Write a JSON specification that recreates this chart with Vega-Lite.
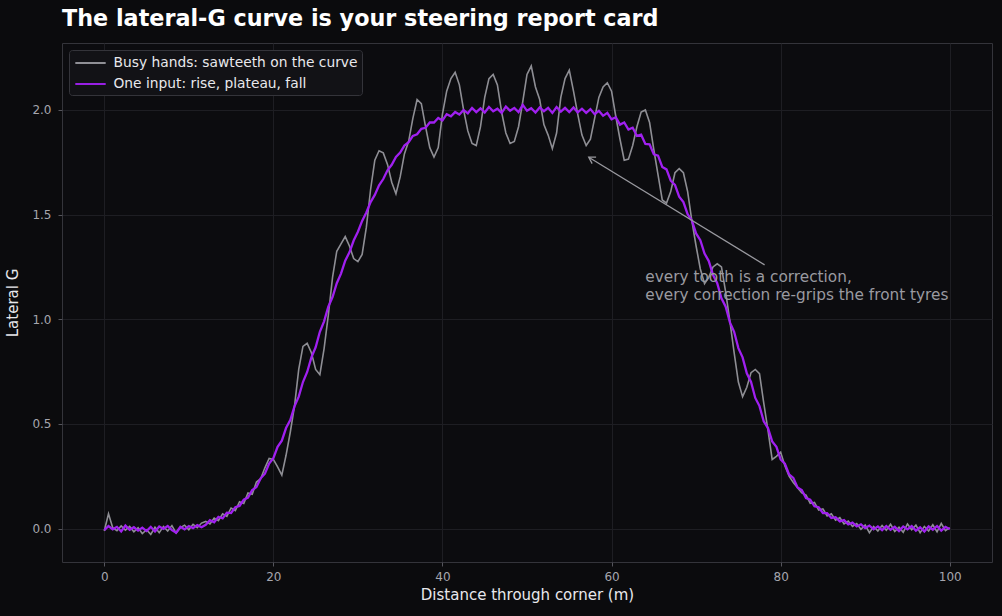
{
  "$schema": "https://vega.github.io/schema/vega-lite/v6.json",
  "width": 930,
  "height": 519,
  "autosize": {"type": "none"},
  "padding": {"left": 62, "top": 43, "right": 10, "bottom": 54},
  "background": "#0b0b0d",
  "title": {
    "text": "The lateral-G curve is your steering report card",
    "anchor": "start",
    "frame": "group",
    "fontSize": 22.3,
    "fontWeight": "bold",
    "color": "#ffffff",
    "font": "DejaVu Sans",
    "offset": 13
  },
  "datasets": {
    "trace": [
      {"x": 0, "p": -0.008, "g": -0.012}, {"x": 0.5, "p": 0.012, "g": 0.07}, {"x": 1, "p": -0.004, "g": 0.004},
      {"x": 1.5, "p": 0.008, "g": -0.01}, {"x": 2, "p": -0.014, "g": 0.012}, {"x": 2.5, "p": 0.014, "g": -0.008},
      {"x": 3, "p": -0.006, "g": 0.01}, {"x": 3.5, "p": 0.006, "g": -0.016}, {"x": 4, "p": -0.01, "g": 0.004},
      {"x": 4.5, "p": 0.004, "g": -0.024}, {"x": 5, "p": -0.012, "g": -0.006}, {"x": 5.5, "p": 0.008, "g": -0.028},
      {"x": 6, "p": -0.014, "g": 0.006}, {"x": 6.5, "p": 0.01, "g": -0.02}, {"x": 7, "p": -0.002, "g": 0.01},
      {"x": 7.5, "p": 0.012, "g": -0.012}, {"x": 8, "p": -0.008, "g": 0.014}, {"x": 8.5, "p": -0.02, "g": -0.022},
      {"x": 9, "p": 0.008, "g": 0.004}, {"x": 9.5, "p": -0.004, "g": 0.016}, {"x": 10, "p": 0.012, "g": -0.006},
      {"x": 10.5, "p": 0.002, "g": 0.02}, {"x": 11, "p": 0.016, "g": 0.004}, {"x": 11.5, "p": 0.006, "g": 0.026},
      {"x": 12, "p": 0.018, "g": 0.034}, {"x": 12.5, "p": 0.04, "g": 0.022}, {"x": 13, "p": 0.03, "g": 0.05},
      {"x": 13.5, "p": 0.056, "g": 0.038}, {"x": 14, "p": 0.048, "g": 0.07}, {"x": 14.5, "p": 0.076, "g": 0.058},
      {"x": 15, "p": 0.074, "g": 0.098}, {"x": 15.5, "p": 0.102, "g": 0.086}, {"x": 16, "p": 0.108, "g": 0.128},
      {"x": 16.5, "p": 0.138, "g": 0.12}, {"x": 17, "p": 0.148, "g": 0.17}, {"x": 17.5, "p": 0.184, "g": 0.164},
      {"x": 18, "p": 0.198, "g": 0.222}, {"x": 18.5, "p": 0.24, "g": 0.238}, {"x": 19, "p": 0.262, "g": 0.29},
      {"x": 19.5, "p": 0.31, "g": 0.335}, {"x": 20, "p": 0.336, "g": 0.33}, {"x": 20.5, "p": 0.39, "g": 0.295},
      {"x": 21, "p": 0.42, "g": 0.255}, {"x": 21.5, "p": 0.48, "g": 0.35}, {"x": 22, "p": 0.518, "g": 0.46},
      {"x": 22.5, "p": 0.584, "g": 0.585}, {"x": 23, "p": 0.63, "g": 0.76}, {"x": 23.5, "p": 0.7, "g": 0.87},
      {"x": 24, "p": 0.748, "g": 0.885}, {"x": 24.5, "p": 0.818, "g": 0.84}, {"x": 25, "p": 0.866, "g": 0.76},
      {"x": 25.5, "p": 0.94, "g": 0.735}, {"x": 26, "p": 0.99, "g": 0.86}, {"x": 26.5, "p": 1.06, "g": 1.02},
      {"x": 27, "p": 1.106, "g": 1.2}, {"x": 27.5, "p": 1.172, "g": 1.325}, {"x": 28, "p": 1.218, "g": 1.36},
      {"x": 28.5, "p": 1.28, "g": 1.395}, {"x": 29, "p": 1.32, "g": 1.35}, {"x": 29.5, "p": 1.376, "g": 1.29},
      {"x": 30, "p": 1.418, "g": 1.275}, {"x": 30.5, "p": 1.47, "g": 1.31}, {"x": 31, "p": 1.51, "g": 1.44},
      {"x": 31.5, "p": 1.56, "g": 1.62}, {"x": 32, "p": 1.594, "g": 1.76}, {"x": 32.5, "p": 1.64, "g": 1.805},
      {"x": 33, "p": 1.67, "g": 1.795}, {"x": 33.5, "p": 1.712, "g": 1.74}, {"x": 34, "p": 1.738, "g": 1.655},
      {"x": 34.5, "p": 1.776, "g": 1.6}, {"x": 35, "p": 1.796, "g": 1.68}, {"x": 35.5, "p": 1.83, "g": 1.79},
      {"x": 36, "p": 1.846, "g": 1.85}, {"x": 36.5, "p": 1.876, "g": 1.96}, {"x": 37, "p": 1.884, "g": 2.05},
      {"x": 37.5, "p": 1.91, "g": 2.03}, {"x": 38, "p": 1.915, "g": 1.92}, {"x": 38.5, "p": 1.94, "g": 1.82},
      {"x": 39, "p": 1.94, "g": 1.775}, {"x": 39.5, "p": 1.962, "g": 1.82}, {"x": 40, "p": 1.95, "g": 1.98},
      {"x": 40.5, "p": 1.98, "g": 2.09}, {"x": 41, "p": 1.97, "g": 2.15}, {"x": 41.5, "p": 1.99, "g": 2.18},
      {"x": 42, "p": 1.978, "g": 2.12}, {"x": 42.5, "p": 2.0, "g": 2.0}, {"x": 43, "p": 1.984, "g": 1.9},
      {"x": 43.5, "p": 2.01, "g": 1.84}, {"x": 44, "p": 1.99, "g": 1.83}, {"x": 44.5, "p": 2.008, "g": 1.92},
      {"x": 45, "p": 1.988, "g": 2.06}, {"x": 45.5, "p": 2.014, "g": 2.15}, {"x": 46, "p": 1.994, "g": 2.17},
      {"x": 46.5, "p": 2.006, "g": 2.12}, {"x": 47, "p": 1.986, "g": 1.99}, {"x": 47.5, "p": 2.016, "g": 1.89},
      {"x": 48, "p": 1.996, "g": 1.84}, {"x": 48.5, "p": 2.01, "g": 1.85}, {"x": 49, "p": 1.99, "g": 1.92},
      {"x": 49.5, "p": 2.024, "g": 2.04}, {"x": 50, "p": 1.996, "g": 2.17}, {"x": 50.5, "p": 2.008, "g": 2.21},
      {"x": 51, "p": 1.988, "g": 2.11}, {"x": 51.5, "p": 2.012, "g": 2.05}, {"x": 52, "p": 1.994, "g": 1.93},
      {"x": 52.5, "p": 2.01, "g": 1.88}, {"x": 53, "p": 1.986, "g": 1.815}, {"x": 53.5, "p": 2.014, "g": 1.89},
      {"x": 54, "p": 1.992, "g": 2.06}, {"x": 54.5, "p": 2.01, "g": 2.15}, {"x": 55, "p": 1.99, "g": 2.19},
      {"x": 55.5, "p": 2.012, "g": 2.09}, {"x": 56, "p": 1.988, "g": 1.98}, {"x": 56.5, "p": 2.006, "g": 1.88},
      {"x": 57, "p": 1.986, "g": 1.83}, {"x": 57.5, "p": 2.004, "g": 1.86}, {"x": 58, "p": 1.98, "g": 1.96},
      {"x": 58.5, "p": 1.996, "g": 2.06}, {"x": 59, "p": 1.972, "g": 2.11}, {"x": 59.5, "p": 1.986, "g": 2.13},
      {"x": 60, "p": 1.955, "g": 2.09}, {"x": 60.5, "p": 1.965, "g": 1.97}, {"x": 61, "p": 1.93, "g": 1.86},
      {"x": 61.5, "p": 1.94, "g": 1.76}, {"x": 62, "p": 1.906, "g": 1.765}, {"x": 62.5, "p": 1.915, "g": 1.83},
      {"x": 63, "p": 1.876, "g": 1.92}, {"x": 63.5, "p": 1.882, "g": 1.99}, {"x": 64, "p": 1.838, "g": 2.0},
      {"x": 64.5, "p": 1.836, "g": 1.94}, {"x": 65, "p": 1.788, "g": 1.81}, {"x": 65.5, "p": 1.782, "g": 1.69},
      {"x": 66, "p": 1.728, "g": 1.57}, {"x": 66.5, "p": 1.716, "g": 1.555}, {"x": 67, "p": 1.662, "g": 1.61},
      {"x": 67.5, "p": 1.642, "g": 1.7}, {"x": 68, "p": 1.586, "g": 1.72}, {"x": 68.5, "p": 1.56, "g": 1.7},
      {"x": 69, "p": 1.502, "g": 1.61}, {"x": 69.5, "p": 1.472, "g": 1.47}, {"x": 70, "p": 1.41, "g": 1.35},
      {"x": 70.5, "p": 1.378, "g": 1.24}, {"x": 71, "p": 1.314, "g": 1.17}, {"x": 71.5, "p": 1.278, "g": 1.2},
      {"x": 72, "p": 1.212, "g": 1.25}, {"x": 72.5, "p": 1.172, "g": 1.265}, {"x": 73, "p": 1.1, "g": 1.25},
      {"x": 73.5, "p": 1.06, "g": 1.13}, {"x": 74, "p": 0.985, "g": 0.99}, {"x": 74.5, "p": 0.94, "g": 0.84},
      {"x": 75, "p": 0.862, "g": 0.7}, {"x": 75.5, "p": 0.818, "g": 0.63}, {"x": 76, "p": 0.742, "g": 0.675},
      {"x": 76.5, "p": 0.7, "g": 0.745}, {"x": 77, "p": 0.624, "g": 0.76}, {"x": 77.5, "p": 0.585, "g": 0.74},
      {"x": 78, "p": 0.512, "g": 0.6}, {"x": 78.5, "p": 0.48, "g": 0.47}, {"x": 79, "p": 0.416, "g": 0.33},
      {"x": 79.5, "p": 0.39, "g": 0.345}, {"x": 80, "p": 0.33, "g": 0.365}, {"x": 80.5, "p": 0.31, "g": 0.3},
      {"x": 81, "p": 0.258, "g": 0.25}, {"x": 81.5, "p": 0.242, "g": 0.22}, {"x": 82, "p": 0.196, "g": 0.195},
      {"x": 82.5, "p": 0.184, "g": 0.17}, {"x": 83, "p": 0.146, "g": 0.16}, {"x": 83.5, "p": 0.138, "g": 0.12},
      {"x": 84, "p": 0.106, "g": 0.125}, {"x": 84.5, "p": 0.102, "g": 0.088}, {"x": 85, "p": 0.074, "g": 0.094},
      {"x": 85.5, "p": 0.074, "g": 0.06}, {"x": 86, "p": 0.05, "g": 0.07}, {"x": 86.5, "p": 0.054, "g": 0.04},
      {"x": 87, "p": 0.034, "g": 0.052}, {"x": 87.5, "p": 0.04, "g": 0.022}, {"x": 88, "p": 0.02, "g": 0.036},
      {"x": 88.5, "p": 0.028, "g": 0.01}, {"x": 89, "p": 0.01, "g": 0.024}, {"x": 89.5, "p": 0.02, "g": -0.004},
      {"x": 90, "p": 0.002, "g": 0.016}, {"x": 90.5, "p": 0.014, "g": -0.02}, {"x": 91, "p": -0.004, "g": 0.01},
      {"x": 91.5, "p": 0.01, "g": -0.012}, {"x": 92, "p": -0.008, "g": 0.014}, {"x": 92.5, "p": 0.012, "g": -0.008},
      {"x": 93, "p": -0.006, "g": 0.02}, {"x": 93.5, "p": 0.008, "g": -0.014}, {"x": 94, "p": -0.012, "g": 0.006},
      {"x": 94.5, "p": 0.01, "g": -0.018}, {"x": 95, "p": -0.004, "g": 0.022}, {"x": 95.5, "p": 0.012, "g": -0.006},
      {"x": 96, "p": -0.01, "g": 0.016}, {"x": 96.5, "p": 0.006, "g": -0.02}, {"x": 97, "p": -0.014, "g": 0.01},
      {"x": 97.5, "p": 0.01, "g": -0.012}, {"x": 98, "p": -0.006, "g": 0.018}, {"x": 98.5, "p": 0.012, "g": -0.016},
      {"x": 99, "p": -0.01, "g": 0.024}, {"x": 99.5, "p": 0.008, "g": -0.01}, {"x": 100, "p": -0.004, "g": 0.004}
    ]
  },
  "data": {"name": "trace"},
  "layer": [
    {
      "mark": {"type": "line", "strokeWidth": 1.6, "opacity": 0.95},
      "encoding": {
        "x": {
          "field": "x", "type": "quantitative",
          "scale": {"domain": [-5, 105], "nice": false, "zero": false},
          "axis": {"values": [0, 20, 40, 60, 80, 100], "title": "Distance through corner (m)"}
        },
        "y": {
          "field": "g", "type": "quantitative",
          "scale": {"domain": [-0.16, 2.32], "nice": false, "zero": false},
          "axis": {"values": [0, 0.5, 1, 1.5, 2], "format": ".1f", "title": "Lateral G"}
        },
        "color": {
          "datum": "Busy hands: sawteeth on the curve",
          "type": "nominal",
          "scale": {
            "domain": ["Busy hands: sawteeth on the curve", "One input: rise, plateau, fall"],
            "range": ["#96969c", "#a020f0"]
          },
          "legend": {"title": null}
        }
      }
    },
    {
      "mark": {"type": "line", "strokeWidth": 2.3},
      "encoding": {
        "x": {"field": "x", "type": "quantitative"},
        "y": {"field": "p", "type": "quantitative"},
        "color": {"datum": "One input: rise, plateau, fall", "type": "nominal"}
      }
    },
    {
      "data": {"values": [{}]},
      "mark": {"type": "rule", "color": "#9a9aa0", "strokeWidth": 1.3},
      "encoding": {
        "x": {"datum": 78.1, "type": "quantitative"},
        "y": {"datum": 1.26, "type": "quantitative"},
        "x2": {"datum": 57.4},
        "y2": {"datum": 1.772}
      }
    },
    {
      "data": {"values": [{}]},
      "mark": {
        "type": "point",
        "shape": "M-0.6,1L0,0L0.6,1",
        "filled": false,
        "stroke": "#9a9aa0",
        "strokeWidth": 1.3,
        "size": 160,
        "angle": 301.5,
        "opacity": 1
      },
      "encoding": {
        "x": {"datum": 57.3, "type": "quantitative"},
        "y": {"datum": 1.775, "type": "quantitative"}
      }
    },
    {
      "data": {"values": [{}]},
      "mark": {
        "type": "text",
        "text": ["every tooth is a correction,", "every correction re-grips the front tyres"],
        "align": "left",
        "baseline": "top",
        "lineHeight": 18,
        "fontSize": 15.3,
        "font": "DejaVu Sans",
        "color": "#9a9aa0"
      },
      "encoding": {
        "x": {"datum": 64.0, "type": "quantitative"},
        "y": {"datum": 1.235, "type": "quantitative"}
      }
    }
  ],
  "config": {
    "font": "DejaVu Sans",
    "view": {"stroke": "#34343a", "fill": "#0c0c0f"},
    "axis": {
      "domain": false,
      "grid": true,
      "gridColor": "#1e1e23",
      "gridWidth": 1,
      "tickColor": "#55555c",
      "tickSize": 4,
      "labelColor": "#a6a6ae",
      "labelFontSize": 12,
      "labelFont": "DejaVu Sans",
      "labelPadding": 5,
      "titleColor": "#e8e8ec",
      "titleFontSize": 15,
      "titleFont": "DejaVu Sans",
      "titleFontWeight": "normal"
    },
    "axisX": {"titlePadding": 5},
    "axisY": {"titlePadding": 11, "labelPadding": 7},
    "legend": {
      "orient": "top-left",
      "offset": 7,
      "fillColor": "#121216",
      "strokeColor": "#34343a",
      "cornerRadius": 3,
      "padding": 4,
      "labelColor": "#e8e8ec",
      "labelFontSize": 13.8,
      "labelFont": "DejaVu Sans",
      "labelLimit": 0,
      "symbolType": "M-1.9,0L1.9,0",
      "symbolStrokeWidth": 2,
      "symbolSize": 256,
      "symbolOffset": 8.5,
      "rowPadding": 5,
      "labelOffset": 14
    }
  }
}
